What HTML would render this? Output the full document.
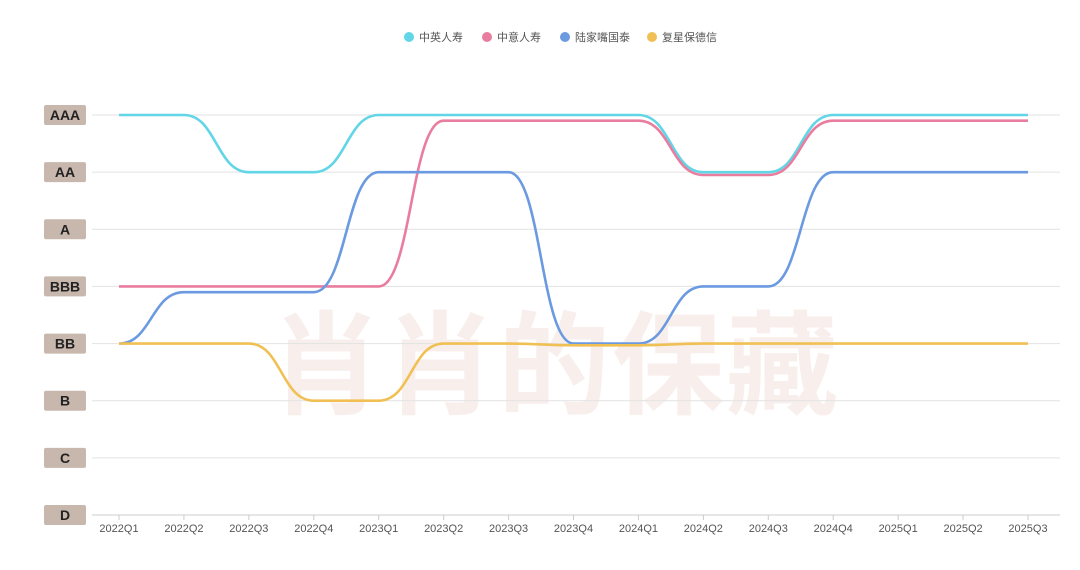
<!DOCTYPE html>
<html><head><meta charset="utf-8"><style>
body{margin:0;background:#fff;width:1080px;height:565px;overflow:hidden;font-family:"Liberation Sans","Noto Sans CJK SC",sans-serif}
</style></head><body>
<svg id="c" width="1080" height="565" xmlns="http://www.w3.org/2000/svg">
<text x="555" y="405" text-anchor="middle" font-size="112" font-weight="bold" fill="#f8efec" font-family="Noto Sans CJK SC, sans-serif" letter-spacing="2">肖肖的保藏</text>
<g id="grid"></g><g id="lines"></g><g id="legend"></g>
</svg>
<script>
const categories=['2022Q1','2022Q2','2022Q3','2022Q4','2023Q1','2023Q2','2023Q3','2023Q4','2024Q1','2024Q2','2024Q3','2024Q4','2025Q1','2025Q2','2025Q3'];
const ratingLabels=['D','C','B','BB','BBB','A','AA','AAA'];
const seriesNames=['中英人寿','中意人寿','陆家嘴国泰','复星保德信'];
const s0=[7,7,6,6,7,7,7,7,7,6,6,7,7,7,7];
const s1=[4,4,4,4,4,6.9,6.9,6.9,6.9,5.95,5.95,6.9,6.9,6.9,6.9];
const s2=[3,3.9,3.9,3.9,6,6,6,3,3,4,4,6,6,6,6];
const s3=[3,3,3,2,2,3,3,2.97,2.97,3,3,3,3,3,3];
const colors=['#62d5e6','#e97d9f','#6b9ae0','#f0c054'];
const NS='http://www.w3.org/2000/svg';
const x=i=>119+i*(1028-119)/(categories.length-1);
const y=v=>515-v*(515-115)/7;
function mk(t,a,p){const e=document.createElementNS(NS,t);for(const k in a)e.setAttribute(k,a[k]);p.appendChild(e);return e;}
const grid=document.getElementById('grid');
ratingLabels.forEach((r,i)=>{
 const ln=mk('line',{x1:92,x2:1060,y1:y(i),y2:y(i),stroke:i==0?'#ccc':'#e2e2e2','stroke-width':1},grid);
 
 
 const b=mk('rect',{x:44,y:y(i)-10,width:42,height:20,rx:2,fill:'#c8b7ad'},grid);
 
 
 const t=mk('text',{x:65,y:y(i)+5,'text-anchor':'middle','font-size':14,'font-weight':'bold',fill:'#222'},grid);
 t.textContent=r;
 
 
});
categories.forEach((c,i)=>{
 const tk=mk('line',{x1:x(i),x2:x(i),y1:515,y2:520,stroke:'#ccc'},grid);
 
 
 const t=mk('text',{x:x(i),y:532,'text-anchor':'middle','font-size':11,fill:'#555'},grid);
 t.textContent=c;
 
 
});
const lines=document.getElementById('lines');
[s0,s1,s2,s3].forEach((s,k)=>{
 let d='M'+x(0)+','+y(s[0]);
 for(let i=1;i<s.length;i++){const m=(x(i-1)+x(i))/2;d+=' C'+m+','+y(s[i-1])+' '+m+','+y(s[i])+' '+x(i)+','+y(s[i]);}
 const p=mk('path',{d:d,fill:'none',stroke:colors[k],'stroke-width':2.6},lines);
 
 
});
const lg=document.getElementById('legend');
const lx=[409,487,565,652];
seriesNames.forEach((n,k)=>{
 const c=mk('circle',{cx:lx[k],cy:37,r:5,fill:colors[k]},lg);
 
 
 const t=mk('text',{x:lx[k]+10,y:41,'font-size':11,fill:'#555'},lg);
 t.textContent=n;
 
 
});
</script>
</body></html>
